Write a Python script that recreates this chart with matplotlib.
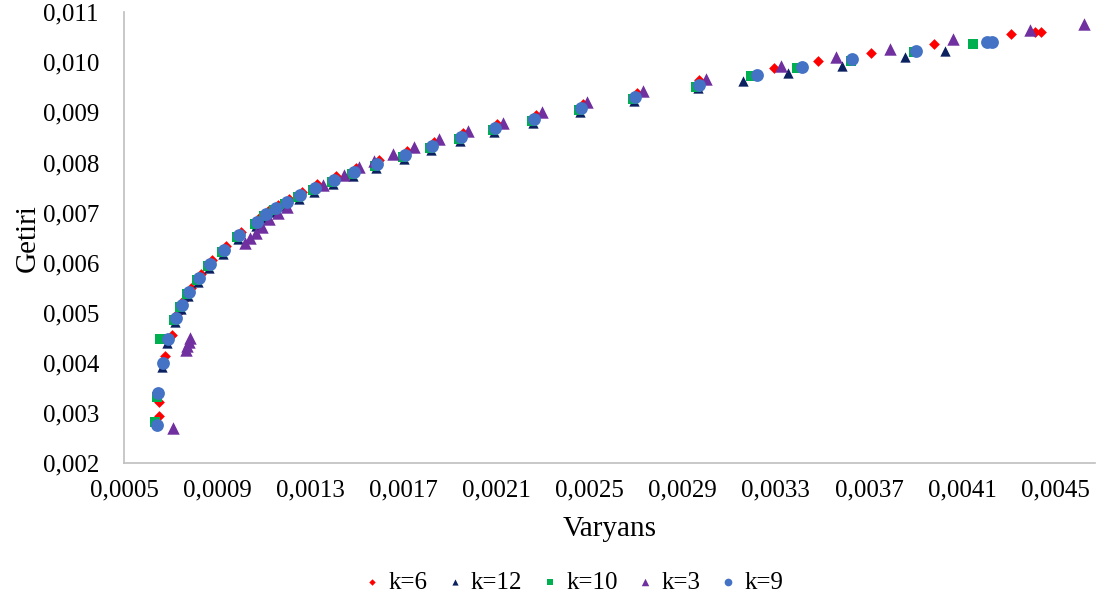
import matplotlib
matplotlib.use("Agg")
import matplotlib.pyplot as plt
import numpy as np
from matplotlib.ticker import FuncFormatter, FixedLocator

plt.rcParams["font.family"] = ["Liberation Serif", "DejaVu Serif"]

# k=6 (red diamonds)
k6_x = [0.000650, 0.000650, 0.000676, 0.000706, 0.000732, 0.000758, 0.000788, 0.000830,
        0.000878, 0.000938, 0.001002, 0.001079, 0.001118, 0.001161, 0.001208, 0.001264,
        0.001328, 0.001410, 0.001496, 0.001594, 0.001715, 0.001830, 0.001955, 0.002101,
        0.002268, 0.002470, 0.002702, 0.002972, 0.003290, 0.003479, 0.003710, 0.003981,
        0.004311, 0.004414, 0.004440]
k6_y = [0.002938, 0.003217, 0.004135, 0.004554, 0.004993, 0.005253, 0.005492, 0.005772,
        0.006051, 0.006330, 0.006610, 0.006889, 0.007029, 0.007149, 0.007268, 0.007408,
        0.007568, 0.007727, 0.007887, 0.008047, 0.008226, 0.008406, 0.008585, 0.008765,
        0.008945, 0.009164, 0.009384, 0.009643, 0.009883, 0.010022, 0.010182, 0.010361,
        0.010561, 0.010601, 0.010601]

# k=12 (navy triangles)
k12_x = [0.000663, 0.000685, 0.000719, 0.000745, 0.000775, 0.000818, 0.000865, 0.000925,
         0.000989, 0.001067, 0.001105, 0.001148, 0.001195, 0.001251, 0.001315, 0.001397,
         0.001483, 0.001582, 0.001702, 0.001818, 0.001942, 0.002088, 0.002255, 0.002457,
         0.002689, 0.002964, 0.003157, 0.003354, 0.003582, 0.003856, 0.004028]
k12_y = [0.003916, 0.004395, 0.004814, 0.005073, 0.005333, 0.005612, 0.005891, 0.006171,
         0.006470, 0.006730, 0.006889, 0.007009, 0.007129, 0.007268, 0.007408, 0.007568,
         0.007727, 0.007887, 0.008067, 0.008246, 0.008426, 0.008605, 0.008785, 0.009004,
         0.009224, 0.009483, 0.009623, 0.009783, 0.009922, 0.010102, 0.010222]

# k=10 (green squares)
k10_x = [0.000633, 0.000642, 0.000655, 0.000715, 0.000740, 0.000770, 0.000813, 0.000861,
         0.000921, 0.000985, 0.001062, 0.001101, 0.001144, 0.001191, 0.001247, 0.001311,
         0.001393, 0.001479, 0.001577, 0.001697, 0.001813, 0.001938, 0.002084, 0.002251,
         0.002453, 0.002685, 0.002959, 0.003195, 0.003393, 0.003624, 0.003895, 0.004148]
k10_y = [0.002818, 0.003317, 0.004475, 0.004854, 0.005113, 0.005373, 0.005652, 0.005931,
         0.006211, 0.006510, 0.006769, 0.006929, 0.007049, 0.007169, 0.007308, 0.007448,
         0.007608, 0.007767, 0.007927, 0.008106, 0.008286, 0.008466, 0.008645, 0.008825,
         0.009044, 0.009264, 0.009503, 0.009723, 0.009882, 0.010022, 0.010202, 0.010361]

# k=3 (purple triangles)
k3_x = [0.000710, 0.000766, 0.000770, 0.000779, 0.000783, 0.001019, 0.001041, 0.001067,
        0.001092, 0.001122, 0.001161, 0.001200, 0.001354, 0.001444, 0.001509, 0.001573,
        0.001655, 0.001745, 0.001852, 0.001976, 0.002127, 0.002294, 0.002491, 0.002728,
        0.003002, 0.003324, 0.003560, 0.003792, 0.004062, 0.004393, 0.004624]
k3_y = [0.002698, 0.004255, 0.004335, 0.004415, 0.004494, 0.006390, 0.006490, 0.006590,
        0.006710, 0.006869, 0.006989, 0.007109, 0.007548, 0.007747, 0.007907, 0.008027,
        0.008166, 0.008306, 0.008466, 0.008625, 0.008785, 0.009004, 0.009204, 0.009424,
        0.009663, 0.009922, 0.010102, 0.010262, 0.010461, 0.010641, 0.010761]

# k=9 (blue circles)
k9_x = [0.000642, 0.000646, 0.000667, 0.000689, 0.000723, 0.000749, 0.000779, 0.000822,
        0.000869, 0.000929, 0.000994, 0.001071, 0.001109, 0.001152, 0.001200, 0.001255,
        0.001320, 0.001401, 0.001487, 0.001586, 0.001706, 0.001822, 0.001946, 0.002092,
        0.002260, 0.002461, 0.002693, 0.002968, 0.003217, 0.003414, 0.003629, 0.003903,
        0.004208, 0.004230]
k9_y = [0.002758, 0.003397, 0.003996, 0.004475, 0.004894, 0.005153, 0.005412, 0.005692,
        0.005971, 0.006251, 0.006550, 0.006809, 0.006969, 0.007089, 0.007208, 0.007348,
        0.007488, 0.007647, 0.007807, 0.007967, 0.008146, 0.008326, 0.008506, 0.008685,
        0.008865, 0.009084, 0.009304, 0.009543, 0.009743, 0.009902, 0.010062, 0.010222,
        0.010401, 0.010401]

series = [
    ("k=6", k6_x, k6_y, "D", "#FF0000", 30),
    ("k=12", k12_x, k12_y, "^", "#0B2160", 55),
    ("k=10", k10_x, k10_y, "s", "#00B050", 55),
    ("k=3", k3_x, k3_y, "^", "#7030A0", 80),
    ("k=9", k9_x, k9_y, "o", "#4472C4", 85),
]

fig = plt.figure(figsize=(10.97, 6.10), dpi=100)
ax = fig.add_axes([0.113, 0.241, 0.885, 0.739])

for label, x, y, marker, color, size in series:
    ax.scatter(x, y, marker=marker, color=color, s=size, linewidths=0, label=label)

ax.set_xlim(0.0005, 0.00467)
ax.set_ylim(0.002, 0.011)
ax.xaxis.set_major_locator(FixedLocator(np.arange(0.0005, 0.00451, 0.0004)))
ax.yaxis.set_major_locator(FixedLocator(np.arange(0.002, 0.01101, 0.001)))
ax.xaxis.set_major_formatter(FuncFormatter(lambda v, p: f"{v:.4f}".replace(".", ",")))
ax.yaxis.set_major_formatter(FuncFormatter(lambda v, p: f"{v:.3f}".replace(".", ",")))

for side in ["top", "right"]:
    ax.spines[side].set_visible(False)
for side in ["left", "bottom"]:
    ax.spines[side].set_color("#BFBFBF")
    ax.spines[side].set_linewidth(1.2)

ax.tick_params(axis="both", length=0, labelsize=18)
ax.tick_params(axis="y", pad=18)
ax.tick_params(axis="x", pad=12)

ax.set_xlabel("Varyans", fontsize=21, labelpad=10)
ax.set_ylabel("Getiri", fontsize=21)
ax.yaxis.set_label_coords(-0.086, 0.5)

fig.legend(loc="lower center", ncol=5, frameon=False, fontsize=18,
           bbox_to_anchor=(0.523, -0.01), handlelength=0.6, handletextpad=0.35,
           columnspacing=0.8, markerscale=0.6)

fig.savefig("out.png", dpi=100)
